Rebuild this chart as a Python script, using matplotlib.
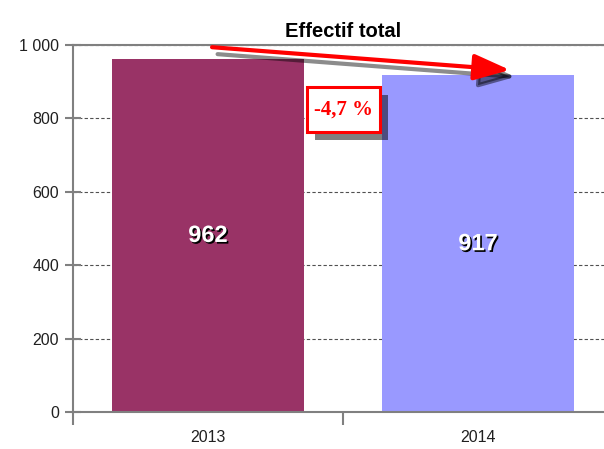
import matplotlib
matplotlib.use("Agg")
import matplotlib.pyplot as plt
import matplotlib.patheffects as pe
import matplotlib.patches as mpatches
import matplotlib.transforms as mtransforms
from matplotlib.ticker import FuncFormatter

years = ["2013", "2014"]
effectif = [962, 917]
bar_colors = ["#993366", "#9999FF"]
variation_label = "-4,7 %"
title = "Effectif total"

plt.rcParams["font.family"] = ["Liberation Sans", "DejaVu Sans"]

fig = plt.figure(figsize=(6.04, 4.49), dpi=100)
ax = fig.add_axes([73 / 604, 37 / 449, 540 / 604, 367 / 449])

x = list(range(len(years)))
ax.bar(x, effectif, width=0.71, color=bar_colors, zorder=2)

# value labels with a small black shadow
for xi, v in zip(x, effectif):
    ax.text(xi, v / 2, f"{v}", ha="center", va="center", color="white",
            fontsize=17, fontweight="bold", zorder=4,
            path_effects=[pe.SimplePatchShadow(offset=(1.2, -1.2), shadow_rgbFace="black", alpha=1),
                          pe.Normal()])

ax.set_xlim(-0.5, 1.5)
ax.set_ylim(0, 1000)
ax.set_yticks([0, 200, 400, 600, 800, 1000])
ax.yaxis.set_major_formatter(FuncFormatter(lambda v, p: f"{int(v):,}".replace(",", " ")))
ax.set_xticks([-0.5, 0.5, 1.5])
ax.set_xticklabels([])
ax.set_xticks(x, minor=True)
ax.set_xticklabels(years, minor=True)
ax.tick_params(axis="x", which="minor", length=0, pad=13, labelsize=11.5, labelcolor="#202020")
ax.tick_params(axis="x", which="major", direction="out", length=9.5, width=1.5, color="#808080")
ax.tick_params(axis="y", direction="inout", length=12, width=1.5, color="#808080",
               pad=4, labelsize=11.5, labelcolor="#202020")

ax.yaxis.grid(True, linestyle=(0, (3, 2)), linewidth=0.8, color="#505050", zorder=1)
ax.set_axisbelow(True)
for side in ["left", "bottom", "top"]:
    ax.spines[side].set_color("#808080")
    ax.spines[side].set_linewidth(1.5)
ax.spines["right"].set_visible(False)

ax.set_title(title, fontsize=14.5, fontweight="bold", pad=6)

# trend arrow with grey shadow (shadow = same arrow shifted a few points)
arrow_start = (0.015, 994)
arrow_end = (1.118, 932)
arrow_style = "-|>,head_length=1.1,head_width=0.4"
shifted = mtransforms.offset_copy(ax.transData, fig=fig, x=4, y=-5, units="points")
ax.annotate("", xy=arrow_end, xytext=arrow_start, xycoords=shifted, textcoords=shifted,
            arrowprops=dict(arrowstyle=arrow_style, mutation_scale=20, color="black", alpha=0.45,
                            lw=3, shrinkA=0, shrinkB=0),
            zorder=5)
ax.annotate("", xy=arrow_end, xytext=arrow_start,
            arrowprops=dict(arrowstyle=arrow_style, mutation_scale=20, color="red",
                            lw=3, shrinkA=0, shrinkB=0),
            zorder=5)

# variation label box with shadow
bx, by = 0.5, 823
w, h = 0.73, 0.45
base = fig.dpi_scale_trans + mtransforms.ScaledTranslation(bx, by, ax.transData)
shadow = mpatches.Rectangle((-w / 2 + 0.08, -h / 2 - 0.08), w, h, transform=base,
                            facecolor="black", alpha=0.5, edgecolor="none", zorder=5)
box = mpatches.Rectangle((-w / 2, -h / 2), w, h, transform=base,
                         facecolor="white", edgecolor="red", lw=2.2, zorder=6)
ax.add_patch(shadow)
ax.add_patch(box)
ax.text(bx, by, variation_label, ha="center", va="center", color="red", fontsize=15,
        fontweight="bold", family=["Liberation Serif", "DejaVu Serif"], zorder=7)

fig.savefig("out.png", dpi=100)
